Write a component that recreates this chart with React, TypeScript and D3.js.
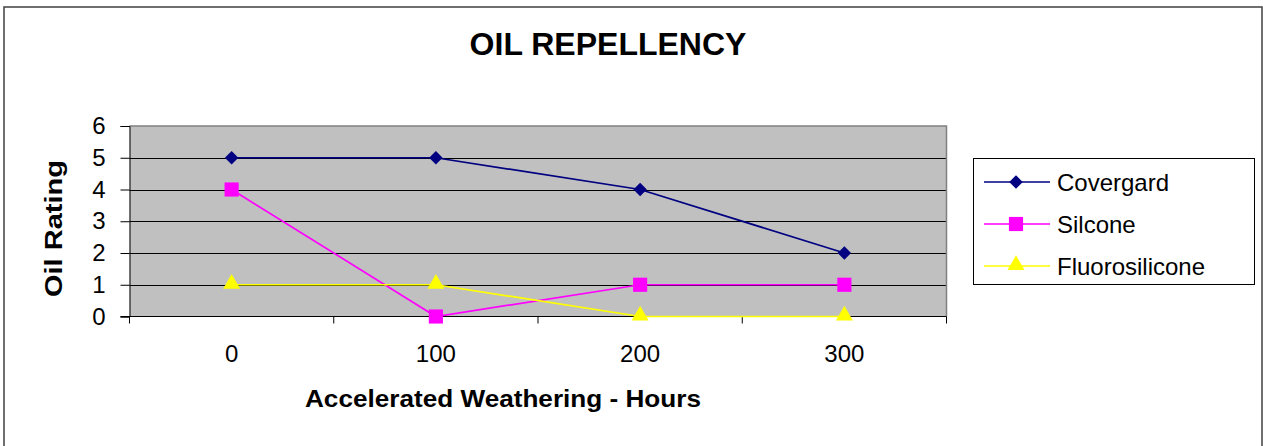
import React, { useRef, useEffect } from "react";
import * as d3 from "d3";

// chart data
const hours = ["0", "100", "200", "300"];
const covergard = [5, 5, 4, 2];
const silcone = [4, 0, 1, 1];
const fluorosilicone = [1, 1, 0, 0];
const yTicks = [0, 1, 2, 3, 4, 5, 6];

const seriesList = [
  { name: "Covergard", values: covergard, color: "#000080", shape: "diamond" },
  { name: "Silcone", values: silcone, color: "#FF00FF", shape: "square" },
  { name: "Fluorosilicone", values: fluorosilicone, color: "#FFFF00", shape: "triangle" },
];

const FONT = "'Liberation Sans', Arial, sans-serif";

const App = () => {
  const container = useRef<SVGSVGElement | null>(null);

  const width = 1263;
  const height = 446;

  useEffect(() => {
    const svg = d3.select(container.current);
    svg.selectAll("*").remove();

    // plot area
    const left = 129.5;
    const right = 946.5;
    const top = 126;
    const bottom = 316.5;

    const xBand = d3.scaleBand().domain(hours).range([left, right]);
    const xScale = (h: string) => (xBand(h) as number) + xBand.bandwidth() / 2;
    const yScale = d3.scaleLinear().domain([0, 6]).range([bottom, top]);

    // outer frame
    svg
      .append("rect")
      .attr("x", 4)
      .attr("y", 7)
      .attr("width", 1258)
      .attr("height", 460)
      .attr("fill", "white")
      .attr("stroke", "#404040")
      .attr("stroke-width", 1.5);

    // gray background
    svg
      .append("rect")
      .attr("x", left)
      .attr("y", top)
      .attr("width", right - left)
      .attr("height", bottom - top)
      .attr("fill", "#C0C0C0");

    // grid lines
    svg
      .append("g")
      .selectAll("line")
      .data(yTicks.filter((t) => t > 0 && t < 6))
      .enter()
      .append("line")
      .attr("x1", left)
      .attr("x2", right)
      .attr("y1", (d) => Math.round(yScale(d)) + 0.5)
      .attr("y2", (d) => Math.round(yScale(d)) + 0.5)
      .attr("stroke", "black")
      .attr("stroke-width", 1);

    // top and right border
    svg
      .append("path")
      .attr("d", `M${left},${top}H${right}V${bottom}`)
      .attr("fill", "none")
      .attr("stroke", "#808080")
      .attr("stroke-width", 1.5);

    // y axis
    const yAxis = d3
      .axisLeft(yScale)
      .tickValues(yTicks)
      .tickFormat(d3.format("d"))
      .tickSize(9)
      .tickPadding(15);
    const yg = svg.append("g").attr("transform", `translate(${left},0)`).call(yAxis);
    yg.select(".domain").attr("stroke", "black");
    yg.selectAll(".tick line").attr("stroke", "black");
    yg.selectAll("text")
      .style("font-family", FONT)
      .style("font-size", "24px")
      .attr("fill", "black");

    // x axis
    const xAxis = d3.axisBottom(xBand).tickSize(0).tickPadding(28);
    const xg = svg.append("g").attr("transform", `translate(0,${bottom})`).call(xAxis);
    xg.select(".domain").attr("stroke", "black").attr("d", `M${left - 9},0H${right}`);
    xg.selectAll("text")
      .style("font-family", FONT)
      .style("font-size", "24px")
      .attr("fill", "black");

    // x ticks between categories
    const boundaries = hours.map((h) => xBand(h) as number).concat([right]);
    svg
      .append("g")
      .selectAll("line")
      .data(boundaries)
      .enter()
      .append("line")
      .attr("x1", (d) => d)
      .attr("x2", (d) => d)
      .attr("y1", bottom)
      .attr("y2", bottom + 7)
      .attr("stroke", "black");

    const symbolFor = (shape: string) => {
      if (shape === "diamond") return d3.symbol().type(d3.symbolDiamond2).size(115)();
      if (shape === "square") return d3.symbol().type(d3.symbolSquare).size(200)();
      return d3.symbol().type(d3.symbolTriangle).size(125)();
    };

    // lines and markers
    seriesList.forEach((s) => {
      const line = d3
        .line<number>()
        .x((d, i) => xScale(hours[i]))
        .y((d) => yScale(d));

      svg
        .append("path")
        .datum(s.values)
        .attr("d", line)
        .attr("fill", "none")
        .attr("stroke", s.color)
        .attr("stroke-width", 1.7);

      svg
        .append("g")
        .selectAll("path")
        .data(s.values)
        .enter()
        .append("path")
        .attr("d", symbolFor(s.shape))
        .attr("transform", (d, i) => `translate(${xScale(hours[i])},${yScale(d) - (s.shape === "triangle" ? 1 : 0)})`)
        .attr("fill", s.color);
    });

    // title
    svg
      .append("text")
      .attr("x", 608)
      .attr("y", 55)
      .attr("text-anchor", "middle")
      .style("font-family", FONT)
      .style("font-size", "32px")
      .style("font-weight", "bold")
      .text("OIL REPELLENCY");

    // axis titles
    svg
      .append("text")
      .attr("x", 503)
      .attr("y", 407)
      .attr("text-anchor", "middle")
      .attr("textLength", 396)
      .attr("lengthAdjust", "spacingAndGlyphs")
      .style("font-family", FONT)
      .style("font-size", "24px")
      .style("font-weight", "bold")
      .text("Accelerated Weathering - Hours");

    svg
      .append("text")
      .attr("transform", "translate(62,228.5) rotate(-90)")
      .attr("text-anchor", "middle")
      .attr("textLength", 137)
      .attr("lengthAdjust", "spacingAndGlyphs")
      .style("font-family", FONT)
      .style("font-size", "24px")
      .style("font-weight", "bold")
      .text("Oil Rating");

    // legend
    const legend = svg.append("g");
    legend
      .append("rect")
      .attr("x", 973.5)
      .attr("y", 158.5)
      .attr("width", 281)
      .attr("height", 126)
      .attr("fill", "white")
      .attr("stroke", "black");

    const rows = legend
      .selectAll("g.row")
      .data(seriesList)
      .enter()
      .append("g")
      .attr("class", "row")
      .attr("transform", (d, i) => `translate(0,${182 + i * 42})`);

    rows
      .append("line")
      .attr("x1", 984)
      .attr("x2", 1050)
      .attr("stroke", (d) => d.color)
      .attr("stroke-width", 1.7);

    rows
      .append("path")
      .attr("d", (d) => symbolFor(d.shape))
      .attr("transform", (d) => `translate(1016,${d.shape === "triangle" ? -1 : 0})`)
      .attr("fill", (d) => d.color);

    rows
      .append("text")
      .attr("x", 1057)
      .attr("y", 8.5)
      .style("font-family", FONT)
      .style("font-size", "24px")
      .text((d) => d.name);
  }, []);

  return (
    <div style={{ position: "fixed", left: 0, top: 0, width: width, height: height }}>
      <svg ref={container} width={width} height={height} style={{ display: "block" }} />
    </div>
  );
};

export default App;
